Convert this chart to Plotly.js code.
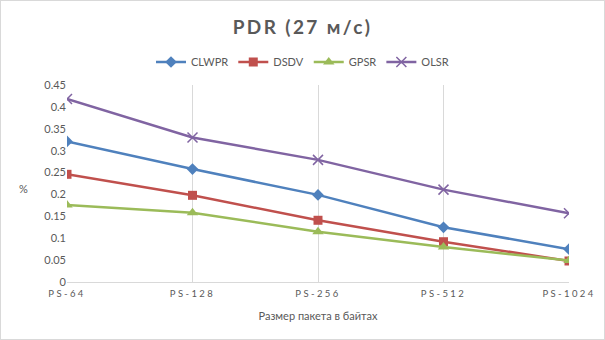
<!DOCTYPE html>
<html>
<head>
<meta charset="utf-8">
<script src="https://cdn.plot.ly/plotly-3.0.1.min.js"></script>
<style>
  html, body { margin: 0; padding: 0; background: #fff; }
  #wrap { position: relative; width: 605px; height: 340px; }
  #chart { width: 605px; height: 340px; }
  #frame { position: absolute; left: 0; top: 0; width: 603px; height: 338px; border: 1px solid #d9d9d9; pointer-events: none; }
  .xtick text { letter-spacing: 2.4px; }
  .gtitle { letter-spacing: 2.4px; }
</style>
</head>
<body>
<div id="wrap"><div id="chart"></div><div id="frame"></div></div>
<script>
const categories = ['PS-64', 'PS-128', 'PS-256', 'PS-512', 'PS-1024'];
const clwpr = [0.321, 0.258, 0.199, 0.125, 0.075];
const dsdv  = [0.246, 0.198, 0.141, 0.092, 0.048];
const gpsr  = [0.176, 0.158, 0.115, 0.080, 0.049];
const olsr  = [0.418, 0.330, 0.279, 0.211, 0.157];
const yTicks = [0, 0.05, 0.1, 0.15, 0.2, 0.25, 0.3, 0.35, 0.4, 0.45];

const FONT = 'Lato, "Open Sans", "DejaVu Sans", sans-serif';
const GRAY = '#595959';

function series(name, y, color, symbol, size, mline) {
  return {
    type: 'scatter', mode: 'lines+markers', name: name,
    x: categories, y: y,
    line: { color: color, width: 2.5 },
    marker: { symbol: symbol, size: size, color: color, line: { color: color, width: mline } }
  };
}

const data = [
  series('CLWPR', clwpr, '#4F81BD', 'diamond', 9, 0),
  series('DSDV', dsdv, '#C0504D', 'square', 9, 0),
  series('GPSR', gpsr, '#9BBB59', 'triangle-up', 10, 0),
  series('OLSR', olsr, '#8064A2', 'x-thin-open', 10, 1.5)
];

const layout = {
  width: 605, height: 340,
  margin: { l: 67, r: 36, t: 85, b: 58 },
  paper_bgcolor: '#ffffff', plot_bgcolor: '#ffffff',
  font: { family: FONT, color: GRAY },
  title: {
    text: '<b>PDR (27 м/с)</b>',
    font: { family: FONT, size: 19, color: GRAY },
    x: 0.5, xref: 'container', xanchor: 'center',
    y: 1 - 27 / 340, yref: 'container', yanchor: 'middle'
  },
  showlegend: true,
  legend: {
    orientation: 'h', xref: 'container', yref: 'container',
    x: 0.5, xanchor: 'center', y: 1 - 62 / 340, yanchor: 'middle',
    font: { family: FONT, size: 11, color: GRAY },
    itemwidth: 30, traceorder: 'normal'
  },
  xaxis: {
    type: 'category', range: [0, 4],
    showgrid: true, gridcolor: '#d9d9d9', gridwidth: 1,
    showline: true, linecolor: '#d9d9d9', linewidth: 1,
    ticks: '', ticklabelstandoff: 3, tickfont: { family: FONT, size: 9.5, color: GRAY },
    zeroline: false, fixedrange: true,
    title: { text: 'Размер пакета в байтах', font: { family: FONT, size: 11, color: GRAY }, standoff: 13 }
  },
  yaxis: {
    range: [0, 0.45], tickvals: yTicks, ticktext: yTicks.map(String),
    showgrid: false, showline: false, zeroline: false, ticks: '',
    tickfont: { family: FONT, size: 11, color: GRAY }, fixedrange: true
  },
  annotations: [{
    text: '%', xref: 'paper', yref: 'paper',
    x: (23 - 67) / 502, y: (282 - 188) / 197, xanchor: 'center', yanchor: 'middle',
    showarrow: false, font: { family: FONT, size: 11, color: GRAY }
  }]
};

Plotly.newPlot('chart', data, layout, { displayModeBar: false, staticPlot: true });
</script>
</body>
</html>
